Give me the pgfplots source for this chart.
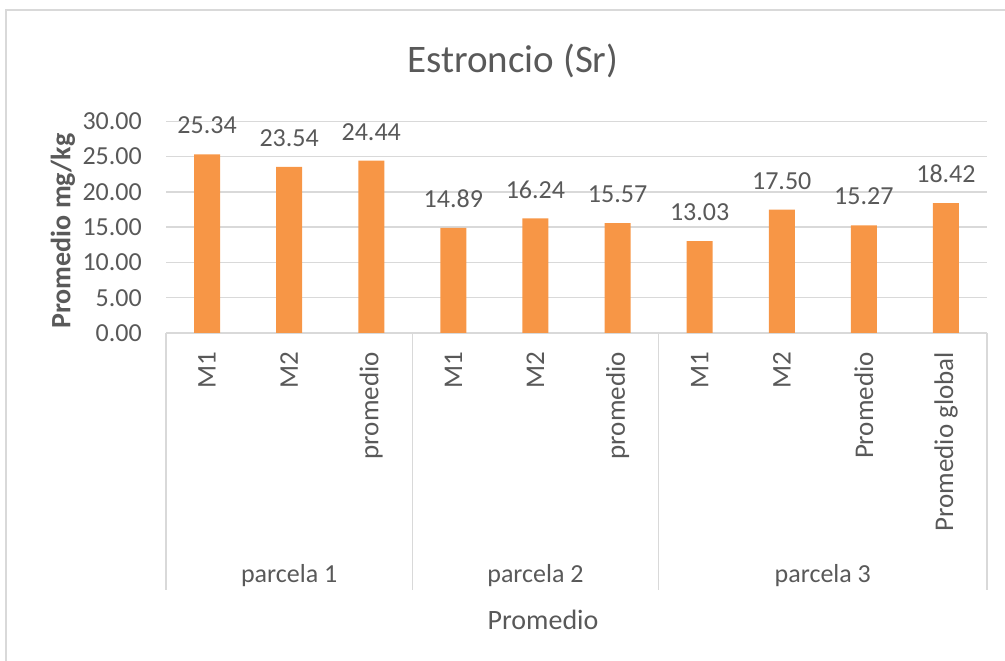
\documentclass[border=0pt]{standalone}
\usepackage{fontspec}
\setmainfont{Carlito}
\usepackage{pgfplots}
\pgfplotsset{compat=1.18}
\definecolor{txt}{HTML}{595959}
\definecolor{gridc}{HTML}{D9D9D9}
\definecolor{barc}{HTML}{F79646}
\begin{document}
\begin{tikzpicture}
\begin{axis}[
  at={(166pt,328pt)}, anchor=south west,
  scale only axis, width=821pt, height=211.6pt,
  xmin=-0.5, xmax=9.5, ymin=0, ymax=30,
  enlargelimits=false,
  ytick={0,5,10,15,20,25,30},
  xtick={0,1,2,3,4,5,6,7,8,9},
  xticklabels={M1,M2,promedio,M1,M2,promedio,M1,M2,Promedio,Promedio global},
  axis line style={draw=none},
  ymajorgrids, grid style={draw=gridc, line width=1.5pt},
  major tick length=0pt, tick style={draw=none},
  ybar, bar width=26pt,
  nodes near coords,
  every node near coord/.append style={font=\fontsize{26}{30}\selectfont, text=txt, inner sep=0pt, yshift=20pt},
  ticklabel style={font=\fontsize{26}{30}\selectfont, text=txt, inner sep=0pt},
  xticklabel style={rotate=90, anchor=east, font=\fontsize{27}{31}\selectfont},
  yticklabel style={anchor=east},
  xticklabel shift=19pt, yticklabel shift=24pt,
  clip=false,
  /pgf/number format/fixed, /pgf/number format/fixed zerofill,
  /pgf/number format/precision=2, /pgf/number format/assume math mode=true
]
\addplot[fill=barc, draw=none] coordinates {(0,25.34) (1,23.54) (2,24.44) (3,14.89) (4,16.24) (5,15.57) (6,13.03) (7,17.50) (8,15.27) (9,18.42)};
\draw[gridc, line width=1.5pt] (axis cs:-0.5,0) -- ++(0pt,-257pt);
\draw[gridc, line width=1.5pt] (axis cs:2.5,0) -- ++(0pt,-257pt);
\draw[gridc, line width=1.5pt] (axis cs:5.5,0) -- ++(0pt,-257pt);
\draw[gridc, line width=1.5pt] (axis cs:9.5,0) -- ++(0pt,-257pt);
\node[anchor=base, font=\fontsize{26}{30}\selectfont, text=txt, inner sep=0pt] at ([yshift=-250pt]axis cs:1,0) {parcela 1};
\node[anchor=base, font=\fontsize{26}{30}\selectfont, text=txt, inner sep=0pt] at ([yshift=-250pt]axis cs:4,0) {parcela 2};
\node[anchor=base, font=\fontsize{26}{30}\selectfont, text=txt, inner sep=0pt] at ([yshift=-250pt]axis cs:7.5,0) {parcela 3};
\end{axis}
\node[anchor=base, font=\fontsize{39}{44}\selectfont, text=txt, inner sep=0pt] at (513pt,588pt) {Estroncio (Sr)};
\node[anchor=base, font=\fontsize{28}{32}\selectfont, text=txt, inner sep=0pt] at (543pt,31pt) {Promedio};
\node[rotate=90, font=\bfseries\fontsize{28}{32}\selectfont, text=txt, inner sep=0pt] at (63pt,430pt) {Promedio mg/kg};
\draw[gridc, line width=2pt] (6pt,0pt) -- (6pt,651pt) -- (1005pt,651pt);
\pgfresetboundingbox
\useasboundingbox (0,0) rectangle (1005pt,661pt);
\end{tikzpicture}
\end{document}
